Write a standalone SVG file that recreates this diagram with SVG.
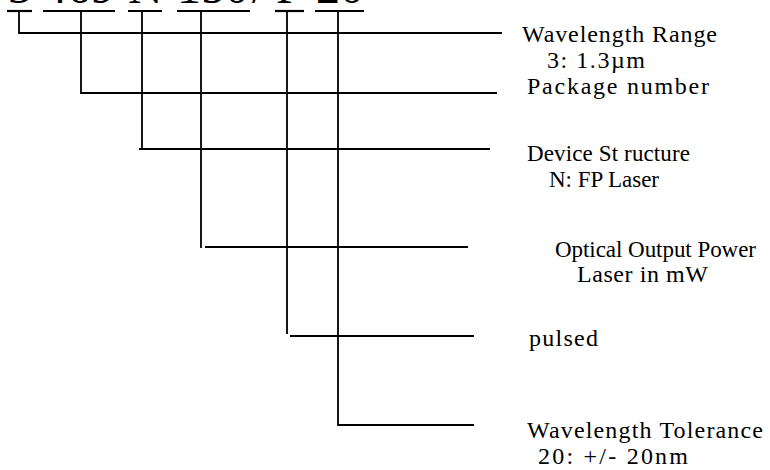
<svg xmlns="http://www.w3.org/2000/svg" width="770" height="470" viewBox="0 0 770 470">
<style>
.code{font-family:"Liberation Serif","Times New Roman",serif;font-size:48px;fill:#000}
.lbl{font-family:"Liberation Serif","Times New Roman",serif;font-size:24px;fill:#000}
.s{font-size:23px}
.ul{stroke:#000;stroke-width:2.2;fill:none}
.con{stroke:#000;stroke-width:1.8;fill:none}
</style>
<rect width="770" height="470" fill="#fff"/>
<g id="code">
<text class="code" y="3"><tspan x="8">3</tspan><tspan x="43">469</tspan><tspan x="128">N</tspan><tspan x="177">150</tspan><tspan x="252">/</tspan><tspan x="276">P</tspan><tspan x="316">20</tspan></text>
<line class="ul" x1="7" y1="11" x2="32" y2="11"/>
<line class="ul" x1="43" y1="11" x2="115" y2="11"/>
<line class="ul" x1="128" y1="11" x2="162" y2="11"/>
<line class="ul" x1="177" y1="11" x2="250" y2="11"/>
<line class="ul" x1="275" y1="11" x2="304" y2="11"/>
<line class="ul" x1="315" y1="11" x2="364" y2="11"/>
</g>
<g id="connectors">
<path class="con" d="M19 11V33H502"/>
<path class="con" d="M81 11V93H497"/>
<path class="con" d="M142 11V149M139 149H490"/>
<path class="con" d="M201 11V248M205 247H468"/>
<path class="con" d="M287 11V334M290 336H474"/>
<path class="con" d="M338 11V425H474"/>
</g>
<g id="wavelength-range">
<text class="lbl" x="522" y="42" textLength="195" lengthAdjust="spacing">Wavelength Range</text>
<text class="lbl" x="547" y="68" textLength="98" lengthAdjust="spacing">3: 1.3µm</text>
</g>
<g id="package-number">
<text class="lbl" x="527" y="94" textLength="182" lengthAdjust="spacing">Package number</text>
</g>
<g id="device-structure">
<text class="lbl s" x="527" y="161" textLength="163" lengthAdjust="spacing">Device St ructure</text>
<text class="lbl s" x="549" y="187" textLength="110" lengthAdjust="spacing">N: FP Laser</text>
</g>
<g id="optical-output-power">
<text class="lbl s" x="555" y="257" textLength="201" lengthAdjust="spacing">Optical Output Power</text>
<text class="lbl" x="577" y="282" textLength="131" lengthAdjust="spacing">Laser in mW</text>
</g>
<g id="pulsed">
<text class="lbl" x="529" y="346" textLength="69" lengthAdjust="spacing">pulsed</text>
</g>
<g id="wavelength-tolerance">
<text class="lbl" x="527" y="438" textLength="236" lengthAdjust="spacing">Wavelength Tolerance</text>
<text class="lbl" x="538" y="464" textLength="150" lengthAdjust="spacing">20: +/- 20nm</text>
</g>
</svg>
